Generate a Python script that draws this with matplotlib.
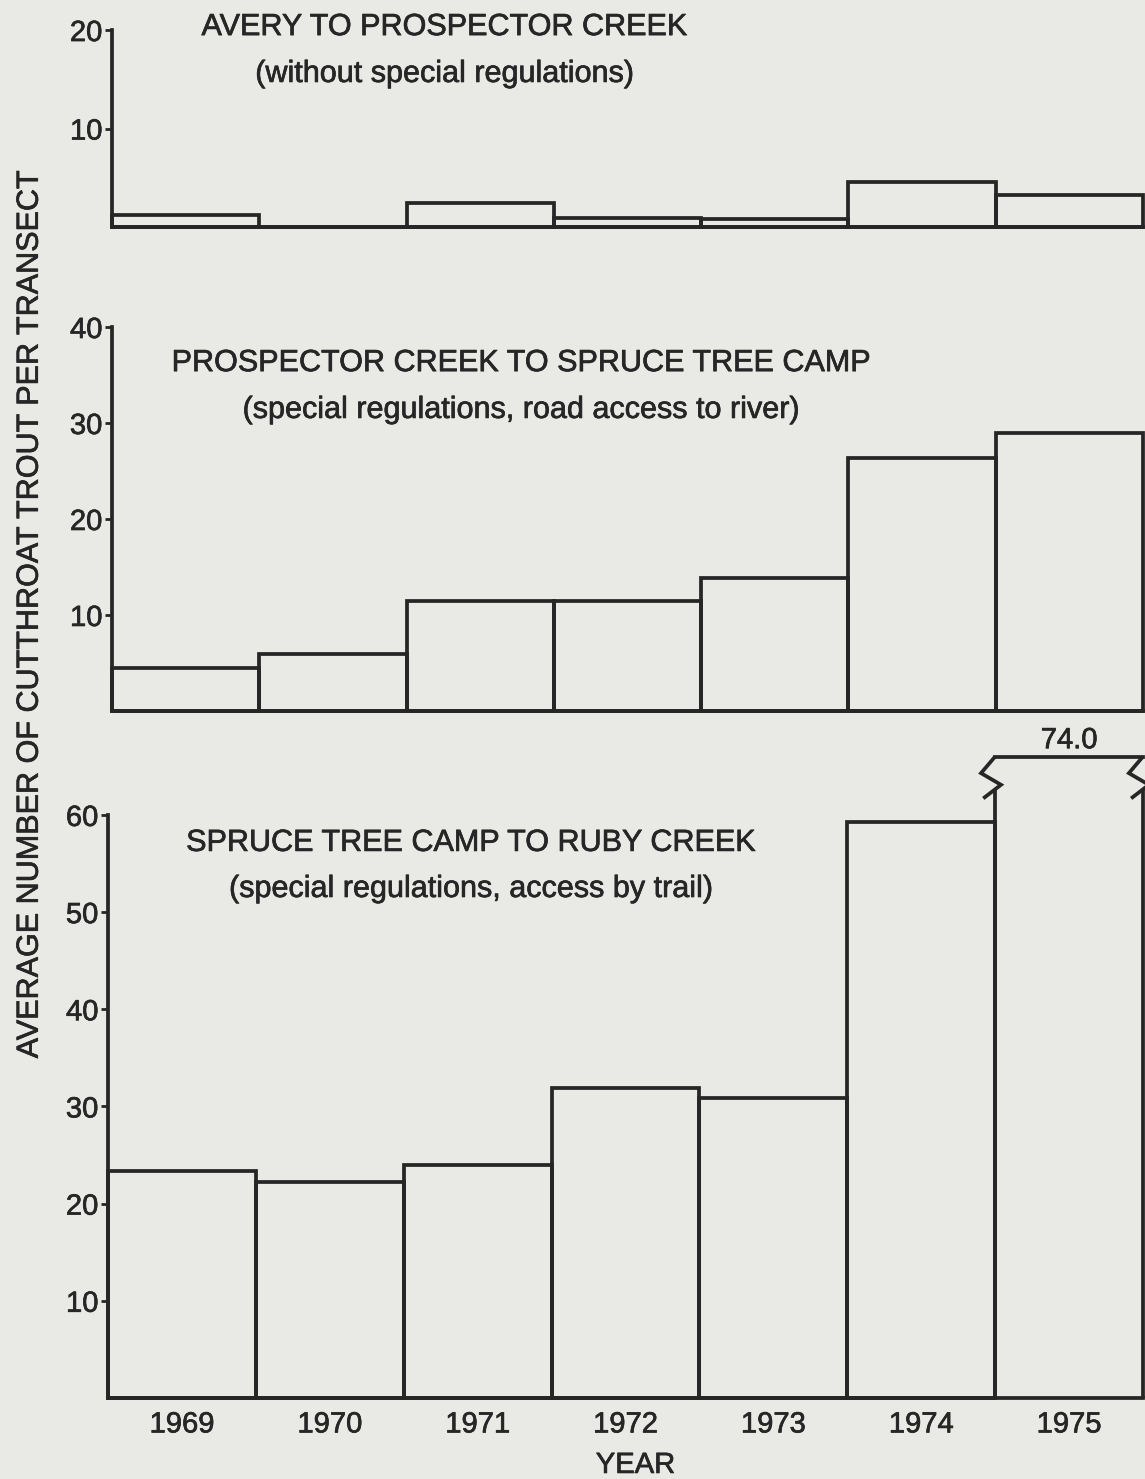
import matplotlib.pyplot as plt
import matplotlib.patheffects as pe
import numpy as np

years = ["1969", "1970", "1971", "1972", "1973", "1974", "1975"]

# average number of cutthroat trout per transect, one list per river section
avery_to_prospector = [1.2, 0.0, 2.4, 0.9, 0.8, 4.6, 3.3]
prospector_to_spruce = [4.5, 5.9, 11.5, 11.5, 13.9, 26.4, 29.0]
spruce_to_ruby = [23.4, 22.2, 24.0, 31.9, 30.9, 59.3, 74.0]

titles = [
    "AVERY TO PROSPECTOR CREEK",
    "PROSPECTOR CREEK TO SPRUCE TREE CAMP",
    "SPRUCE TREE CAMP TO RUBY CREEK",
]
subtitles = [
    "(without special regulations)",
    "(special regulations, road access to river)",
    "(special regulations, access by trail)",
]
y_max = [20, 40, 60]
y_ticks = [[10, 20], [10, 20, 30, 40], [10, 20, 30, 40, 50, 60]]

# values above BREAK_HI are drawn shifted down by (BREAK_HI - BREAK_LO)
BREAK_LO, BREAK_HI = 62.0, 70.0

ink = "#262626"
paper = "#e9e9e6"
lw = 2.7
heavy = [pe.withStroke(linewidth=0.5, foreground=ink)]

plt.rcParams["font.family"] = ["Liberation Sans", "DejaVu Sans"]
plt.rcParams["font.size"] = 22

fig = plt.figure(figsize=(11.45, 14.79), dpi=100, facecolor=paper)

# [left, bottom, width, height] in figure fraction
boxes = [
    [0.0978, 0.8465, 0.9004, 0.1332],
    [0.0978, 0.5193, 0.9004, 0.2596],
    [0.0943, 0.0548, 0.9039, 0.3942],
]
title_pos = [(0.322, 1.015, 0.777), (0.396, 0.906, 0.784), (0.350, 0.952, 0.873)]
series = [avery_to_prospector, prospector_to_spruce, spruce_to_ruby]

x = np.arange(len(years))


def draw_broken_bar(ax, xc, value):
    shown = value - (BREAK_HI - BREAK_LO)
    left, right = xc - 0.5, xc + 0.5
    for edge in (left, right):
        # side of the bar up to the break, then the zigzag up to the top corner
        ax.plot([edge, edge], [0, shown - 3.4], color=ink, lw=lw, clip_on=False,
                solid_capstyle="butt")
        zx = [edge, edge - 0.095, edge + 0.04, edge - 0.08]
        zy = [shown, shown - 1.7, shown - 2.9, shown - 4.3]
        ax.plot(zx, zy, color=ink, lw=lw, clip_on=False,
                solid_joinstyle="miter", solid_capstyle="butt")
    ax.plot([left, right], [shown, shown], color=ink, lw=lw, clip_on=False,
            solid_capstyle="projecting")
    ax.text(xc, shown + 0.25, f"{value:.1f}", ha="center", va="bottom",
            color=ink, fontsize=21, path_effects=heavy)


for i, ax_box in enumerate(boxes):
    ax = fig.add_axes(ax_box)
    ax.set_facecolor("none")
    vals = np.array(series[i])
    normal = vals <= BREAK_HI
    ax.bar(x[normal], vals[normal], width=1.0, fill=False, edgecolor=ink,
           linewidth=lw, clip_on=False, joinstyle="miter")
    for xc, v in zip(x[~normal], vals[~normal]):
        draw_broken_bar(ax, xc, v)

    ax.set_xlim(-0.5, len(years) - 0.5)
    ax.set_ylim(0, y_max[i])
    ax.set_yticks(y_ticks[i])
    ax.tick_params(axis="y", direction="out", length=5, width=2, color=ink,
                   labelcolor=ink, pad=2, labelsize=21)
    for s in ("top", "right"):
        ax.spines[s].set_visible(False)
    for s in ("left", "bottom"):
        ax.spines[s].set_linewidth(lw)
        ax.spines[s].set_color(ink)

    if i == 2:
        ax.set_xticks(x)
        ax.set_xticklabels(years)
        ax.tick_params(axis="x", length=0, pad=9, labelcolor=ink, labelsize=21)
    else:
        ax.set_xticks([])
    for lab in ax.get_yticklabels() + ax.get_xticklabels():
        lab.set_path_effects(heavy)

    tx, ty, sy = title_pos[i]
    ax.text(tx, ty, titles[i], transform=ax.transAxes, ha="center",
            va="center", color=ink, path_effects=heavy)
    ax.text(tx, sy, subtitles[i], transform=ax.transAxes, ha="center",
            va="center", color=ink, path_effects=heavy)

fig.text(0.026, 0.584, "AVERAGE NUMBER OF CUTTHROAT TROUT PER TRANSECT",
         rotation=90, ha="center", va="center", color=ink, path_effects=heavy)
fig.text(0.555, 0.0095, "YEAR", ha="center", va="center", color=ink,
         fontsize=21, path_effects=heavy)

fig.savefig("out.png", dpi=100, facecolor=paper)
